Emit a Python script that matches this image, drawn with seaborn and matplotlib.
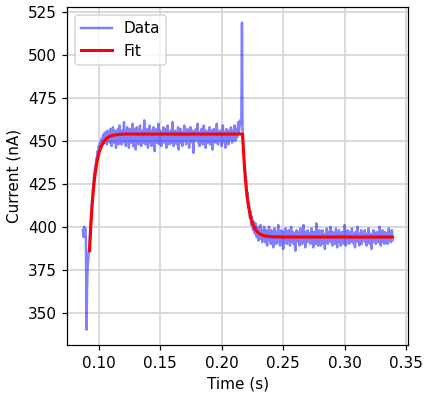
import numpy as np
import matplotlib
matplotlib.use('Agg')
import matplotlib.pyplot as plt
import seaborn as sns

# measured current, sampled every 0.5 ms starting at t = 0.087 s
t_start = 0.087
dt      = 0.0005

pre_step = [398, 394, 400, 396, 399, 393]
dip      = [340, 366, 378, 382, 387, 392]
rise     = [399, 404, 411, 415, 421, 424, 429, 431, 435, 436,
            440, 439, 444, 442, 447, 444, 449, 446, 451, 447,
            452, 448, 454, 449, 455, 450, 453, 448, 456, 451]
plateau_hi = [
    450, 455, 449, 457, 452, 447, 454, 458, 451, 449, 456, 453, 446, 455, 450, 457, 448, 453,
    459, 451, 454, 448, 456, 450, 453, 461, 449, 455, 447, 452, 458, 450, 454, 446, 457, 451,
    455, 449, 452, 460, 447, 454, 451, 457, 445, 453, 458, 450, 455, 448, 452, 459, 451, 447,
    454, 456, 449, 453, 462, 450, 448, 455, 452, 457, 446, 451, 454, 459, 449, 453, 447, 456,
    451, 458, 450, 444, 455, 452, 457, 449, 454, 460, 448, 452, 456, 450, 447, 455, 453, 458,
    449, 454, 451, 457, 446, 453, 459, 450, 455, 448, 452, 456, 449, 454, 461, 451, 447, 453,
    456, 450, 455, 448, 452, 458, 445, 451, 454, 457, 449, 453, 447, 455, 452, 459, 450, 454,
    448, 453, 457, 451, 455, 446, 452, 458, 450, 454, 449, 456, 443, 452, 455, 450, 457, 451,
    454, 460, 449, 453, 447, 455, 451, 457, 452, 448, 454, 459, 450, 453, 446, 456, 452, 449,
    455, 451, 458, 448, 454, 450, 456, 445, 453, 457, 451, 455, 449, 454, 460, 452, 448, 455,
    451, 456, 450, 454, 447, 453, 459, 452, 449, 455, 446, 453, 457, 450, 454, 448, 456, 451,
    453, 458, 452, 449, 456, 451, 455, 459, 450, 454, 457, 452, 456, 461, 455, 458, 462, 460]
spike = [463, 519]
decay = [452, 448, 443, 437, 433, 429, 425, 417, 420, 411, 414, 412, 405, 409, 401, 406, 404, 398,
         403, 401, 396, 402, 399, 394, 400, 397, 392, 399, 396, 401, 393, 397, 391, 398, 395, 400]
plateau_lo = [
    396, 391, 398, 393, 389, 397, 394, 400, 392, 395, 390, 398, 393, 396, 388, 394, 399, 392,
    395, 390, 397, 393, 401, 391, 396, 389, 394, 398, 392, 395, 387, 393, 397, 391, 399, 394,
    390, 396, 392, 398, 394, 389, 395, 400, 391, 393, 397, 390, 396, 392, 386, 394, 398, 393,
    397, 391, 395, 389, 399, 393, 396, 390, 394, 401, 392, 395, 388, 397, 393, 391, 398, 394,
    392, 396, 390, 395, 399, 391, 394, 388, 397, 393, 396, 390, 402, 392, 395, 389, 394, 398,
    393, 389, 396, 392, 398, 390, 395, 393, 387, 396, 391, 399, 394, 390, 397, 392, 395, 400,
    391, 395, 389, 397, 393, 396, 390, 394, 399, 392, 388, 395, 393, 398, 391, 396, 389, 394,
    397, 392, 395, 390, 401, 393, 389, 396, 392, 398, 394, 390, 395, 397, 391, 393, 399, 392,
    396, 390, 394, 388, 397, 392, 395, 400, 391, 394, 389, 396, 393, 398, 390, 395, 392, 397,
    393, 398, 391, 395, 389, 396, 392, 399, 394, 390, 396, 393, 387, 395, 391, 398, 394, 392,
    395, 390, 397, 393, 396, 391, 394, 400, 392, 389, 396, 393, 398, 391, 395, 390, 397, 394,
    392, 396, 390, 395, 399, 393, 397, 391, 394, 398, 392]

current = np.array(pre_step + dip + rise + plateau_hi + spike + decay + plateau_lo, dtype=float)
time    = t_start + dt * np.arange(len(current))

# fitted curve
fit_time    = [0.0925, 0.0935, 0.0945, 0.0955, 0.0965, 0.0975, 0.0985, 0.0995, 0.1005,
               0.1025, 0.1045, 0.1065, 0.1085, 0.1115, 0.1155, 0.1200, 0.2170,
               0.2175, 0.2180, 0.2185, 0.2190, 0.2195, 0.2200, 0.2210, 0.2220, 0.2230,
               0.2240, 0.2250, 0.2260, 0.2280, 0.2300, 0.2320, 0.2350, 0.2400, 0.2500, 0.3390]
fit_current = [386.0, 400.4, 411.7, 420.7, 427.8, 433.3, 437.7, 441.1, 443.9,
               447.7, 450.1, 451.6, 452.5, 453.3, 453.7, 454.0, 454.0,
               446.9, 440.7, 435.2, 430.4, 426.1, 422.3, 416.1, 411.2, 407.4,
               404.4, 402.1, 400.3, 397.8, 396.3, 395.4, 394.7, 394.2, 394.0, 394.0]

dpi = 110
fig, ax = plt.subplots(figsize=(429 / dpi, 398 / dpi), dpi=dpi)
fig.subplots_adjust(left=0.157, right=0.951, top=0.982, bottom=0.133)

sns.lineplot(x=time, y=current, color='blue', alpha=0.5, lw=1.6,
             estimator=None, sort=False, label='Data', ax=ax)
sns.lineplot(x=fit_time, y=fit_current, color='red', lw=2,
             estimator=None, sort=False, label='Fit', ax=ax)

ax.grid(True, color='#d3d3d3', lw=1.1)
ax.set_axisbelow(True)
ax.set_xlabel('Time (s)')
ax.set_ylabel('Current (nA)')
ax.legend(loc='upper left')

plt.savefig('out.png', dpi=dpi)
